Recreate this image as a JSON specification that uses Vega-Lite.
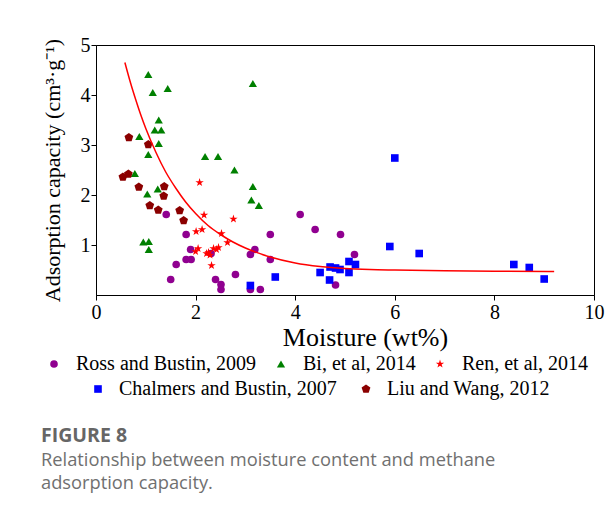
{
  "$schema": "https://vega.github.io/schema/vega-lite/v6.json",
  "width": 498,
  "height": 250,
  "autosize": "none",
  "padding": {"left": 96, "top": 45, "right": 22, "bottom": 220},
  "background": "white",
  "config": {
    "view": {"stroke": "black", "strokeWidth": 1},
    "axis": {
      "grid": false,
      "domainColor": "black",
      "tickColor": "black",
      "labelColor": "black",
      "titleColor": "black",
      "labelFont": "Liberation Serif",
      "titleFont": "Liberation Serif",
      "labelFontSize": 20,
      "titleFontWeight": "normal",
      "tickSize": 5,
      "labelFlush": false
    },
    "legend": {
      "labelFont": "Liberation Serif",
      "labelFontSize": 20,
      "labelColor": "black",
      "labelLimit": 0,
      "symbolStrokeWidth": 0,
      "padding": 0,
      "columnPadding": 19
    }
  },
  "title": {
    "text": "FIGURE 8",
    "subtitle": ["Relationship between moisture content and methane", "adsorption capacity."],
    "orient": "bottom",
    "anchor": "start",
    "frame": "bounds",
    "offset": 28,
    "dx": 0,
    "font": "Open Sans",
    "fontSize": 19.5,
    "fontWeight": "bold",
    "color": "#666666",
    "subtitleFont": "Open Sans",
    "subtitleFontSize": 18.3,
    "subtitleColor": "#707070",
    "subtitleLineHeight": 23,
    "subtitlePadding": 5
  },
  "datasets": {
    "points": [
      {"series": "Ross and Bustin, 2009", "moisture": 1.41, "capacity": 1.61},
      {"series": "Ross and Bustin, 2009", "moisture": 1.81, "capacity": 1.21},
      {"series": "Ross and Bustin, 2009", "moisture": 1.90, "capacity": 0.91},
      {"series": "Ross and Bustin, 2009", "moisture": 1.81, "capacity": 0.71},
      {"series": "Ross and Bustin, 2009", "moisture": 1.91, "capacity": 0.71},
      {"series": "Ross and Bustin, 2009", "moisture": 1.61, "capacity": 0.61},
      {"series": "Ross and Bustin, 2009", "moisture": 1.50, "capacity": 0.31},
      {"series": "Ross and Bustin, 2009", "moisture": 2.31, "capacity": 0.83},
      {"series": "Ross and Bustin, 2009", "moisture": 2.40, "capacity": 0.31},
      {"series": "Ross and Bustin, 2009", "moisture": 2.51, "capacity": 0.21},
      {"series": "Ross and Bustin, 2009", "moisture": 2.51, "capacity": 0.11},
      {"series": "Ross and Bustin, 2009", "moisture": 2.80, "capacity": 0.41},
      {"series": "Ross and Bustin, 2009", "moisture": 3.10, "capacity": 0.11},
      {"series": "Ross and Bustin, 2009", "moisture": 3.30, "capacity": 0.11},
      {"series": "Ross and Bustin, 2009", "moisture": 3.10, "capacity": 0.81},
      {"series": "Ross and Bustin, 2009", "moisture": 3.19, "capacity": 0.91},
      {"series": "Ross and Bustin, 2009", "moisture": 3.50, "capacity": 1.21},
      {"series": "Ross and Bustin, 2009", "moisture": 3.50, "capacity": 0.71},
      {"series": "Ross and Bustin, 2009", "moisture": 4.10, "capacity": 1.61},
      {"series": "Ross and Bustin, 2009", "moisture": 4.40, "capacity": 1.31},
      {"series": "Ross and Bustin, 2009", "moisture": 4.91, "capacity": 1.21},
      {"series": "Ross and Bustin, 2009", "moisture": 4.81, "capacity": 0.20},
      {"series": "Ross and Bustin, 2009", "moisture": 5.19, "capacity": 0.81},
      {"series": "Bi, et al, 2014", "moisture": 1.05, "capacity": 4.41},
      {"series": "Bi, et al, 2014", "moisture": 1.14, "capacity": 4.05},
      {"series": "Bi, et al, 2014", "moisture": 1.44, "capacity": 4.13},
      {"series": "Bi, et al, 2014", "moisture": 3.15, "capacity": 4.23},
      {"series": "Bi, et al, 2014", "moisture": 1.26, "capacity": 3.50},
      {"series": "Bi, et al, 2014", "moisture": 1.18, "capacity": 3.30},
      {"series": "Bi, et al, 2014", "moisture": 1.31, "capacity": 3.30},
      {"series": "Bi, et al, 2014", "moisture": 1.26, "capacity": 3.03},
      {"series": "Bi, et al, 2014", "moisture": 0.87, "capacity": 3.17},
      {"series": "Bi, et al, 2014", "moisture": 1.05, "capacity": 2.81},
      {"series": "Bi, et al, 2014", "moisture": 2.19, "capacity": 2.77},
      {"series": "Bi, et al, 2014", "moisture": 2.45, "capacity": 2.77},
      {"series": "Bi, et al, 2014", "moisture": 2.78, "capacity": 2.50},
      {"series": "Bi, et al, 2014", "moisture": 0.78, "capacity": 2.43},
      {"series": "Bi, et al, 2014", "moisture": 3.15, "capacity": 2.17},
      {"series": "Bi, et al, 2014", "moisture": 3.12, "capacity": 1.90},
      {"series": "Bi, et al, 2014", "moisture": 3.27, "capacity": 1.79},
      {"series": "Bi, et al, 2014", "moisture": 1.24, "capacity": 2.12},
      {"series": "Bi, et al, 2014", "moisture": 1.03, "capacity": 2.02},
      {"series": "Bi, et al, 2014", "moisture": 0.95, "capacity": 1.06},
      {"series": "Bi, et al, 2014", "moisture": 1.06, "capacity": 1.07},
      {"series": "Bi, et al, 2014", "moisture": 1.06, "capacity": 0.91},
      {"series": "Ren, et al, 2014", "moisture": 2.08, "capacity": 2.25},
      {"series": "Ren, et al, 2014", "moisture": 2.17, "capacity": 1.60},
      {"series": "Ren, et al, 2014", "moisture": 2.76, "capacity": 1.52},
      {"series": "Ren, et al, 2014", "moisture": 2.01, "capacity": 1.27},
      {"series": "Ren, et al, 2014", "moisture": 2.13, "capacity": 1.31},
      {"series": "Ren, et al, 2014", "moisture": 2.52, "capacity": 1.23},
      {"series": "Ren, et al, 2014", "moisture": 2.64, "capacity": 1.05},
      {"series": "Ren, et al, 2014", "moisture": 2.00, "capacity": 0.87},
      {"series": "Ren, et al, 2014", "moisture": 2.05, "capacity": 0.93},
      {"series": "Ren, et al, 2014", "moisture": 2.22, "capacity": 0.83},
      {"series": "Ren, et al, 2014", "moisture": 2.29, "capacity": 0.80},
      {"series": "Ren, et al, 2014", "moisture": 2.26, "capacity": 0.85},
      {"series": "Ren, et al, 2014", "moisture": 2.36, "capacity": 0.93},
      {"series": "Ren, et al, 2014", "moisture": 2.42, "capacity": 0.91},
      {"series": "Ren, et al, 2014", "moisture": 2.46, "capacity": 0.95},
      {"series": "Ren, et al, 2014", "moisture": 2.32, "capacity": 0.59},
      {"series": "Chalmers and Bustin, 2007", "moisture": 3.10, "capacity": 0.19},
      {"series": "Chalmers and Bustin, 2007", "moisture": 3.60, "capacity": 0.36},
      {"series": "Chalmers and Bustin, 2007", "moisture": 4.50, "capacity": 0.45},
      {"series": "Chalmers and Bustin, 2007", "moisture": 4.70, "capacity": 0.56},
      {"series": "Chalmers and Bustin, 2007", "moisture": 4.69, "capacity": 0.30},
      {"series": "Chalmers and Bustin, 2007", "moisture": 4.81, "capacity": 0.54},
      {"series": "Chalmers and Bustin, 2007", "moisture": 4.90, "capacity": 0.51},
      {"series": "Chalmers and Bustin, 2007", "moisture": 5.08, "capacity": 0.67},
      {"series": "Chalmers and Bustin, 2007", "moisture": 5.08, "capacity": 0.45},
      {"series": "Chalmers and Bustin, 2007", "moisture": 5.21, "capacity": 0.61},
      {"series": "Chalmers and Bustin, 2007", "moisture": 5.90, "capacity": 0.97},
      {"series": "Chalmers and Bustin, 2007", "moisture": 6.00, "capacity": 2.74},
      {"series": "Chalmers and Bustin, 2007", "moisture": 6.49, "capacity": 0.83},
      {"series": "Chalmers and Bustin, 2007", "moisture": 8.39, "capacity": 0.61},
      {"series": "Chalmers and Bustin, 2007", "moisture": 8.70, "capacity": 0.55},
      {"series": "Chalmers and Bustin, 2007", "moisture": 9.00, "capacity": 0.32},
      {"series": "Liu and Wang, 2012", "moisture": 0.66, "capacity": 3.15},
      {"series": "Liu and Wang, 2012", "moisture": 1.05, "capacity": 3.01},
      {"series": "Liu and Wang, 2012", "moisture": 0.54, "capacity": 2.36},
      {"series": "Liu and Wang, 2012", "moisture": 0.65, "capacity": 2.42},
      {"series": "Liu and Wang, 2012", "moisture": 0.86, "capacity": 2.16},
      {"series": "Liu and Wang, 2012", "moisture": 1.37, "capacity": 2.17},
      {"series": "Liu and Wang, 2012", "moisture": 1.36, "capacity": 1.98},
      {"series": "Liu and Wang, 2012", "moisture": 1.08, "capacity": 1.79},
      {"series": "Liu and Wang, 2012", "moisture": 1.25, "capacity": 1.70},
      {"series": "Liu and Wang, 2012", "moisture": 1.68, "capacity": 1.69},
      {"series": "Liu and Wang, 2012", "moisture": 1.76, "capacity": 1.49}
    ],
    "curve": [
      {"moisture": 0.58, "capacity": 4.65},
      {"moisture": 0.7, "capacity": 4.22},
      {"moisture": 0.8, "capacity": 3.90},
      {"moisture": 0.9, "capacity": 3.60},
      {"moisture": 1.0, "capacity": 3.33},
      {"moisture": 1.2, "capacity": 2.86},
      {"moisture": 1.4, "capacity": 2.46},
      {"moisture": 1.6, "capacity": 2.14},
      {"moisture": 1.8, "capacity": 1.86},
      {"moisture": 2.0, "capacity": 1.63},
      {"moisture": 2.25, "capacity": 1.39},
      {"moisture": 2.5, "capacity": 1.21},
      {"moisture": 2.75, "capacity": 1.06},
      {"moisture": 3.0, "capacity": 0.94},
      {"moisture": 3.5, "capacity": 0.76},
      {"moisture": 4.0, "capacity": 0.64},
      {"moisture": 4.5, "capacity": 0.57},
      {"moisture": 5.0, "capacity": 0.53},
      {"moisture": 5.5, "capacity": 0.51},
      {"moisture": 6.0, "capacity": 0.50},
      {"moisture": 7.0, "capacity": 0.485},
      {"moisture": 8.0, "capacity": 0.475},
      {"moisture": 9.2, "capacity": 0.47}
    ]
  },
  "encoding": {
    "x": {
      "field": "moisture",
      "type": "quantitative",
      "scale": {"domain": [0, 10], "nice": false},
      "axis": {
        "title": "Moisture (wt%)",
        "values": [0, 2, 4, 6, 8, 10],
        "titleFontSize": 26,
        "labelPadding": 2,
        "titlePadding": 2,
        "titleX": 269,
        "titleAlign": "center"
      }
    },
    "y": {
      "field": "capacity",
      "type": "quantitative",
      "scale": {"domain": [0, 5], "nice": false},
      "axis": {
        "title": "Adsorption capacity (cm³·g⁻¹)",
        "values": [1, 2, 3, 4, 5],
        "titleFontSize": 22,
        "labelPadding": 1,
        "titlePadding": 16
      }
    }
  },
  "layer": [
    {
      "data": {"name": "points"},
      "transform": [{"filter": {"field": "series", "oneOf": ["Ross and Bustin, 2009", "Bi, et al, 2014", "Ren, et al, 2014"]}}],
      "mark": {"type": "point", "filled": true, "opacity": 1},
      "encoding": {
        "color": {
          "field": "series",
          "type": "nominal",
          "sort": null,
          "scale": {"domain": ["Ross and Bustin, 2009", "Bi, et al, 2014", "Ren, et al, 2014"], "range": ["#900090", "#008000", "#ff0000"]},
          "legend": {"title": null, "orient": "none", "direction": "horizontal", "columns": 3, "legendX": -52, "legendY": 309, "labelOffset": 12, "columnPadding": 14}
        },
        "shape": {
          "field": "series",
          "type": "nominal",
          "sort": null,
          "scale": {"domain": ["Ross and Bustin, 2009", "Bi, et al, 2014", "Ren, et al, 2014"], "range": ["circle", "triangle-up", "M0,-1L0.2245,-0.309L0.951,-0.309L0.363,0.118L0.588,0.809L0,0.382L-0.588,0.809L-0.363,0.118L-0.951,-0.309L-0.2245,-0.309Z"]},
          "legend": {"title": null, "orient": "none", "direction": "horizontal", "columns": 3, "legendX": -52, "legendY": 309, "labelOffset": 12, "columnPadding": 14}
        },
        "size": {
          "field": "series",
          "type": "nominal",
          "sort": null,
          "scale": {"domain": ["Ross and Bustin, 2009", "Bi, et al, 2014", "Ren, et al, 2014"], "range": [58, 78, 115]},
          "legend": {"title": null, "orient": "none", "direction": "horizontal", "columns": 3, "legendX": -52, "legendY": 309, "labelOffset": 12, "columnPadding": 14}
        }
      }
    },
    {
      "data": {"name": "points"},
      "transform": [{"filter": {"field": "series", "oneOf": ["Chalmers and Bustin, 2007", "Liu and Wang, 2012"]}}],
      "mark": {"type": "point", "filled": true, "opacity": 1},
      "encoding": {
        "color": {
          "field": "series",
          "type": "nominal",
          "sort": null,
          "scale": {"domain": ["Chalmers and Bustin, 2007", "Liu and Wang, 2012"], "range": ["#0000ff", "#8b0000"]},
          "legend": {"title": null, "orient": "none", "direction": "horizontal", "columns": 2, "legendX": -8, "legendY": 334, "labelOffset": 11}
        },
        "shape": {
          "field": "series",
          "type": "nominal",
          "sort": null,
          "scale": {"domain": ["Chalmers and Bustin, 2007", "Liu and Wang, 2012"], "range": ["square", "M0,-1L0.951,-0.309L0.588,0.809L-0.588,0.809L-0.951,-0.309Z"]},
          "legend": {"title": null, "orient": "none", "direction": "horizontal", "columns": 2, "legendX": -8, "legendY": 334, "labelOffset": 11}
        },
        "size": {
          "field": "series",
          "type": "nominal",
          "sort": null,
          "scale": {"domain": ["Chalmers and Bustin, 2007", "Liu and Wang, 2012"], "range": [58, 85]},
          "legend": {"title": null, "orient": "none", "direction": "horizontal", "columns": 2, "legendX": -8, "legendY": 334, "labelOffset": 11}
        }
      }
    },
    {
      "data": {"name": "curve"},
      "mark": {"type": "line", "color": "#ff0000", "strokeWidth": 1.5, "interpolate": "monotone"},
      "encoding": {}
    }
  ],
  "resolve": {
    "scale": {"color": "independent", "shape": "independent", "size": "independent"},
    "legend": {"color": "independent", "shape": "independent", "size": "independent"}
  }
}
